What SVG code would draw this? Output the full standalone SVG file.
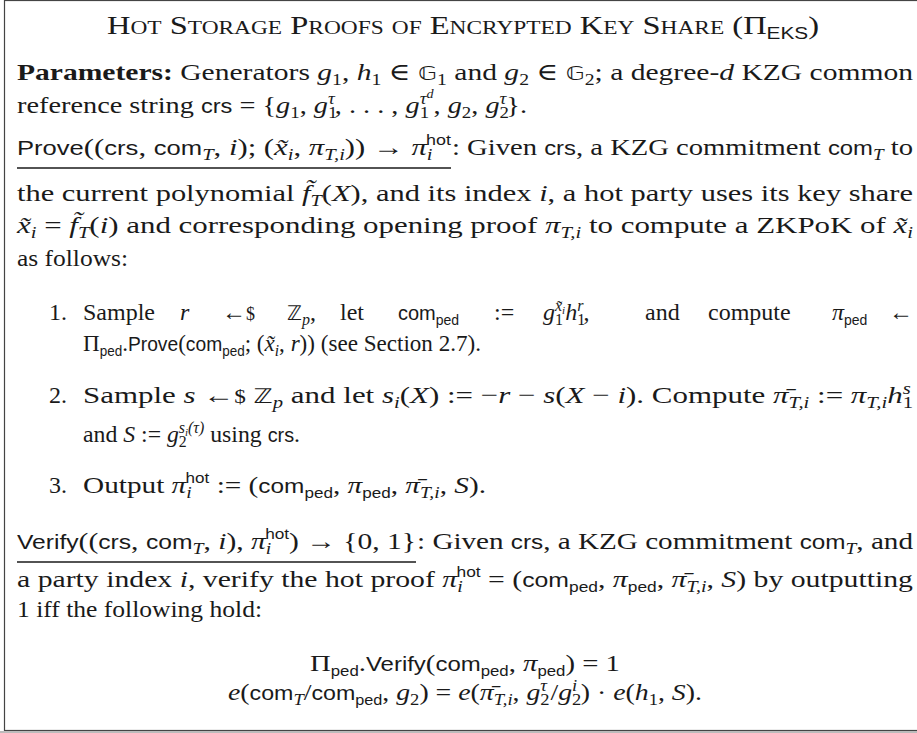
<svg xmlns="http://www.w3.org/2000/svg" width="917" height="733" viewBox="0 0 917 733">
<style>
.tx{font-family:"Liberation Serif","DejaVu Serif",serif;font-size:24px;fill:#1a1a1a}
.ttl{font-variant:small-caps;font-size:25px}
.it{font-style:italic}
.bd{font-weight:bold}
.sf{font-family:"Liberation Sans","DejaVu Sans",sans-serif;font-size:20px;font-style:normal}
.sb{font-size:16px;baseline-shift:-5px}
.sp{font-size:16px;baseline-shift:9px}
.sp2{font-size:12px;baseline-shift:6px}
.sbi{font-size:11px;baseline-shift:-3px}
.ssb{font-family:"Liberation Sans","DejaVu Sans",sans-serif;font-size:14px;font-style:normal;baseline-shift:-5px}
.ssp{font-family:"Liberation Sans","DejaVu Sans",sans-serif;font-size:14px;font-style:normal;baseline-shift:10px}
.bb{font-family:"DejaVu Sans",sans-serif;font-size:20px;font-style:normal}
.dl{font-size:18px}
.ul{stroke:#1a1a1a;stroke-width:1.3}
</style>
<g id="frame">
<rect x="4.5" y="0.5" width="1000" height="730" fill="#ffffff" stroke="#444" stroke-width="1.2"/>
<line x1="0" y1="732" x2="917" y2="732" stroke="#bbb" stroke-width="2"/>
</g>
<g id="title">
<text class="tx ttl" x="107" y="34" textLength="712" lengthAdjust="spacingAndGlyphs">Hot Storage Proofs of Encrypted Key Share (Π<tspan class="ssb" style="font-variant:normal;font-size:16px">EKS</tspan>)</text>
</g>
<g id="parameters">
<text class="tx" x="17" y="80" textLength="896" lengthAdjust="spacingAndGlyphs"><tspan class="bd">Parameters:</tspan> Generators <tspan class="it">g</tspan><tspan class="sb">1</tspan>, <tspan class="it">h</tspan><tspan class="sb">1</tspan> ∈ <tspan class="bb">𝔾</tspan><tspan class="sb">1</tspan> and <tspan class="it">g</tspan><tspan class="sb">2</tspan> ∈ <tspan class="bb">𝔾</tspan><tspan class="sb">2</tspan>; a degree-<tspan class="it">d</tspan> KZG common</text>
<text class="tx" x="17" y="113" textLength="510" lengthAdjust="spacingAndGlyphs">reference string <tspan class="sf">crs</tspan> = {<tspan class="it">g</tspan><tspan class="sb">1</tspan>, <tspan class="it">g</tspan><tspan class="sb">1</tspan><tspan class="sp it" dx="-8">τ</tspan>, . . . , <tspan class="it">g</tspan><tspan class="sb">1</tspan><tspan class="sp it" dx="-8">τ<tspan class="sp2 it">d</tspan></tspan>, <tspan class="it">g</tspan><tspan class="sb">2</tspan>, <tspan class="it">g</tspan><tspan class="sb">2</tspan><tspan class="sp it" dx="-8">τ</tspan>}.</text>
</g>
<g id="prove">
<text class="tx" x="17" y="155" textLength="434" lengthAdjust="spacingAndGlyphs"><tspan class="sf">Prove</tspan>((<tspan class="sf">crs</tspan>, <tspan class="sf">com</tspan><tspan class="sb it">T</tspan>, <tspan class="it">i</tspan>); (<tspan class="it">x̃</tspan><tspan class="sb it">i</tspan>, <tspan class="it">π</tspan><tspan class="sb it">T,i</tspan>)) → <tspan class="it">π</tspan><tspan class="sb it">i</tspan><tspan class="ssp" dx="-5">hot</tspan></text>
<line class="ul" x1="17" y1="168" x2="451" y2="168"/>
<text class="tx" x="452" y="155" textLength="461" lengthAdjust="spacingAndGlyphs">: Given <tspan class="sf">crs</tspan>, a KZG commitment <tspan class="sf">com</tspan><tspan class="sb it">T</tspan> to</text>
<text class="tx" x="17" y="201" textLength="896" lengthAdjust="spacingAndGlyphs">the current polynomial <tspan class="it">f̃</tspan><tspan class="sb it">T</tspan>(<tspan class="it">X</tspan>), and its index <tspan class="it">i</tspan>, a hot party uses its key share</text>
<text class="tx" x="17" y="233" textLength="896" lengthAdjust="spacingAndGlyphs"><tspan class="it">x̃</tspan><tspan class="sb it">i</tspan> = <tspan class="it">f̃</tspan><tspan class="sb it">T</tspan>(<tspan class="it">i</tspan>) and corresponding opening proof <tspan class="it">π</tspan><tspan class="sb it">T,i</tspan> to compute a ZKPoK of <tspan class="it">x̃</tspan><tspan class="sb it">i</tspan></text>
<text class="tx" x="17" y="266" textLength="111" lengthAdjust="spacingAndGlyphs">as follows:</text>
</g>
<g id="step1">
<text class="tx" x="49" y="320">1.</text>
<text class="tx" x="83" y="320">Sample</text>
<text class="tx it" x="180" y="320">r</text>
<text class="tx" x="222" y="320">←<tspan class="dl">$</tspan></text>
<text class="tx" x="287" y="320"><tspan class="bb">ℤ</tspan><tspan class="sb it">p</tspan>,</text>
<text class="tx" x="340" y="320">let</text>
<text class="tx" x="398" y="320"><tspan class="sf">com</tspan><tspan class="ssb">ped</tspan></text>
<text class="tx" x="494" y="320">:=</text>
<text class="tx" x="543" y="320"><tspan class="it">g</tspan><tspan class="sb">1</tspan><tspan class="sp it" dx="-8">x̃<tspan class="sbi it">i</tspan></tspan><tspan class="it">h</tspan><tspan class="sb">1</tspan><tspan class="sp it" dx="-8">r</tspan>,</text>
<text class="tx" x="645" y="320">and</text>
<text class="tx" x="708" y="320">compute</text>
<text class="tx" x="832" y="320"><tspan class="it">π</tspan><tspan class="ssb">ped</tspan></text>
<text class="tx" x="913" y="320" text-anchor="end">←</text>
<text class="tx" x="83" y="351" textLength="398" lengthAdjust="spacingAndGlyphs">Π<tspan class="ssb">ped</tspan>.<tspan class="sf">Prove</tspan>(<tspan class="sf">com</tspan><tspan class="ssb">ped</tspan>; (<tspan class="it">x̃</tspan><tspan class="sb it">i</tspan>, <tspan class="it">r</tspan>)) (see Section 2.7).</text>
</g>
<g id="step2">
<text class="tx" x="49" y="403">2.</text>
<text class="tx" x="83" y="403" textLength="830" lengthAdjust="spacingAndGlyphs">Sample <tspan class="it">s</tspan> ←<tspan class="dl">$</tspan> <tspan class="bb">ℤ</tspan><tspan class="sb it">p</tspan> and let <tspan class="it">s</tspan><tspan class="sb it">i</tspan>(<tspan class="it">X</tspan>) := −<tspan class="it">r</tspan> − <tspan class="it">s</tspan>(<tspan class="it">X</tspan> − <tspan class="it">i</tspan>). Compute <tspan class="it">π̄</tspan><tspan class="sb it">T,i</tspan> := <tspan class="it">π</tspan><tspan class="sb it">T,i</tspan><tspan class="it">h</tspan><tspan class="sb">1</tspan><tspan class="sp it" dx="-8">s</tspan></text>
<text class="tx" x="83" y="442" textLength="217" lengthAdjust="spacingAndGlyphs">and <tspan class="it">S</tspan> := <tspan class="it">g</tspan><tspan class="sb">2</tspan><tspan class="sp it" dx="-8">s<tspan class="sbi it">i</tspan>(τ)</tspan> using <tspan class="sf">crs</tspan>.</text>
</g>
<g id="step3">
<text class="tx" x="49" y="493">3.</text>
<text class="tx" x="83" y="493" textLength="403" lengthAdjust="spacingAndGlyphs">Output <tspan class="it">π</tspan><tspan class="sb it">i</tspan><tspan class="ssp" dx="-5">hot</tspan> := (<tspan class="sf">com</tspan><tspan class="ssb">ped</tspan>, <tspan class="it">π</tspan><tspan class="ssb">ped</tspan>, <tspan class="it">π̄</tspan><tspan class="sb it">T,i</tspan>, <tspan class="it">S</tspan>).</text>
</g>
<g id="verify">
<text class="tx" x="17" y="549" textLength="399" lengthAdjust="spacingAndGlyphs"><tspan class="sf">Verify</tspan>((<tspan class="sf">crs</tspan>, <tspan class="sf">com</tspan><tspan class="sb it">T</tspan>, <tspan class="it">i</tspan>), <tspan class="it">π</tspan><tspan class="sb it">i</tspan><tspan class="ssp" dx="-5">hot</tspan>) → {0, 1}</text>
<line class="ul" x1="17" y1="562" x2="416" y2="562"/>
<text class="tx" x="417" y="549" textLength="496" lengthAdjust="spacingAndGlyphs">: Given <tspan class="sf">crs</tspan>, a KZG commitment <tspan class="sf">com</tspan><tspan class="sb it">T</tspan>, and</text>
<text class="tx" x="17" y="587" textLength="896" lengthAdjust="spacingAndGlyphs">a party index <tspan class="it">i</tspan>, verify the hot proof <tspan class="it">π</tspan><tspan class="sb it">i</tspan><tspan class="ssp" dx="-5">hot</tspan> = (<tspan class="sf">com</tspan><tspan class="ssb">ped</tspan>, <tspan class="it">π</tspan><tspan class="ssb">ped</tspan>, <tspan class="it">π̄</tspan><tspan class="sb it">T,i</tspan>, <tspan class="it">S</tspan>) by outputting</text>
<text class="tx" x="17" y="617" textLength="245" lengthAdjust="spacingAndGlyphs">1 iff the following hold:</text>
</g>
<g id="checks">
<text class="tx" x="310" y="671" textLength="310" lengthAdjust="spacingAndGlyphs">Π<tspan class="ssb">ped</tspan>.<tspan class="sf">Verify</tspan>(<tspan class="sf">com</tspan><tspan class="ssb">ped</tspan>, <tspan class="it">π</tspan><tspan class="ssb">ped</tspan>) = 1</text>
<text class="tx" x="228" y="700" textLength="474" lengthAdjust="spacingAndGlyphs"><tspan class="it">e</tspan>(<tspan class="sf">com</tspan><tspan class="sb it">T</tspan>/<tspan class="sf">com</tspan><tspan class="ssb">ped</tspan>, <tspan class="it">g</tspan><tspan class="sb">2</tspan>) = <tspan class="it">e</tspan>(<tspan class="it">π̄</tspan><tspan class="sb it">T,i</tspan>, <tspan class="it">g</tspan><tspan class="sb">2</tspan><tspan class="sp it" dx="-8">τ</tspan><tspan dx="3">/</tspan><tspan class="it">g</tspan><tspan class="sb">2</tspan><tspan class="sp it" dx="-8">i</tspan><tspan dx="3">)</tspan> · <tspan class="it">e</tspan>(<tspan class="it">h</tspan><tspan class="sb">1</tspan>, <tspan class="it">S</tspan>).</text>
</g>
</svg>
